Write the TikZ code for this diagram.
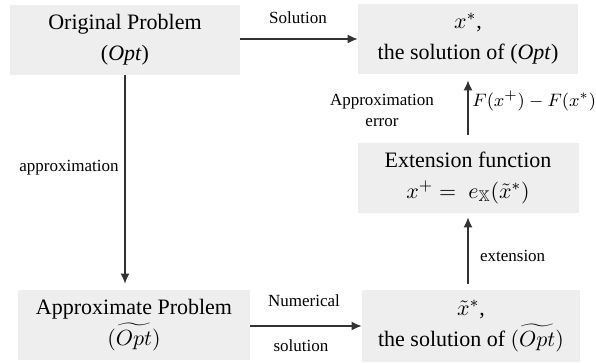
\documentclass[tikz,border=0pt]{standalone}
\usepackage{amsmath,amssymb}
\usepackage{fontspec}
\setmainfont{Liberation Serif}
\usetikzlibrary{arrows.meta}

\definecolor{boxgray}{HTML}{EEEEEE}
\definecolor{linegray}{HTML}{333333}

\begin{document}
\begin{tikzpicture}[x=0.5pt,y=-0.5pt,>={Latex[length=5pt,width=4.5pt]},
  stage/.style={fill=boxgray,align=center,font=\fontsize{11}{15.5}\selectfont,
    minimum height=35pt,inner sep=0pt},
  flow/.style={->,draw=linegray,line width=0.6pt},
  tag/.style={font=\fontsize{8.5}{10.5}\selectfont,align=center,text=black}]
\useasboundingbox (0,0) rectangle (596,363);
% boxes
\node[stage,minimum width=115pt] (orig) at (125,40) {Original Problem\\(\textit{Opt})};
\node[stage,minimum width=110pt] (sol) at (468,39) {$x^{*}$,\\the solution of (\textit{Opt})};
\node[stage,minimum width=110.5pt] (ext) at (468,178) {Extension function\\$x^{+} =\; e_{\mathbb{X}}(\tilde{x}^{*})$};
\node[stage,minimum width=116pt] (appr) at (134,325) {Approximate Problem\\$(\widetilde{Opt})$};
\node[stage,minimum width=109pt,minimum height=36pt] (asol) at (471,326) {$\tilde{x}^{*}$,\\the solution of $(\widetilde{Opt})$};
% connectors
\draw[flow] (orig.east |- sol) -- (sol.west);
\node[tag] (lsol) at (298,18) {Solution};
\draw[flow,shorten >=3pt] (orig.south) -- (orig.south |- appr.north);
\node[tag] (lapp) at (69,168) {approximation};
\draw[flow] (appr.east |- asol) -- (asol.west);
\node[tag] (lnum1) at (304,301) {Numerical};
\node[tag] (lnum2) at (301,346) {solution};
\draw[flow,shorten <=3pt,shorten >=2pt] (asol.north -| ext.south) -- (ext.south);
\node[tag,anchor=west] (lext) at (473,256) {extension};
\draw[flow,shorten <=4pt,shorten >=3pt] (ext.north) -- (sol.south);
\node[tag] (lerr) at (382,110) {Approximation\\error};
\node[tag,anchor=west,font=\fontsize{9.5}{11}\selectfont,inner sep=1pt] (lf) at (470,101) {$F(x^{+}) - F(x^{*})$};
\end{tikzpicture}
\end{document}
